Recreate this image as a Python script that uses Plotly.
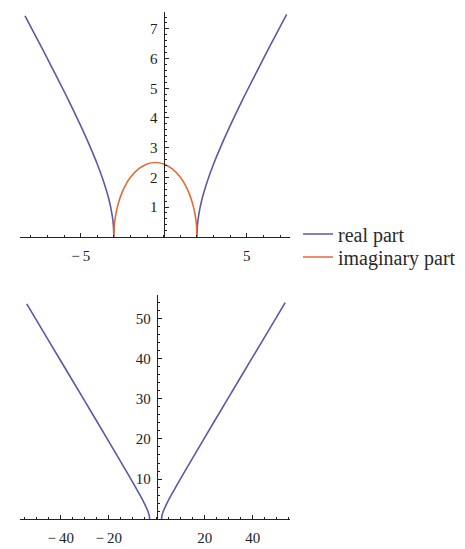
import plotly.graph_objects as go

# values
top_re_left_x = [-8.35, -7.5, -7.0, -6.5, -6.0, -5.5, -5.0, -4.5, -4.0, -3.6, -3.3, -3.1, -3.03, -3.0]
top_re_left_y = [7.44, 6.54, 6.0, 5.45, 4.9, 4.33, 3.74, 3.12, 2.45, 1.83, 1.26, 0.71, 0.39, 0.0]
top_re_right_x = [2.0, 2.03, 2.1, 2.3, 2.6, 3.0, 3.5, 4.0, 4.5, 5.0, 5.5, 6.0, 6.5, 7.0, 7.4]
top_re_right_y = [0.0, 0.39, 0.71, 1.26, 1.83, 2.45, 3.12, 3.74, 4.33, 4.9, 5.45, 6.0, 6.54, 7.07, 7.49]
top_im_x = [-3.0, -2.97, -2.9, -2.75, -2.5, -2.25, -2.0, -1.5, -1.0, -0.5, 0.0, 0.5, 1.0, 1.25, 1.5, 1.75, 1.9, 1.97, 2.0]
top_im_y = [0.0, 0.39, 0.7, 1.09, 1.5, 1.79, 2.0, 2.29, 2.45, 2.5, 2.45, 2.29, 2.0, 1.79, 1.5, 1.09, 0.7, 0.39, 0.0]

bot_left_x = [-54.2, -45, -35, -25, -15, -10, -7, -5, -4, -3.5, -3.1, -3.0]
bot_left_y = [53.6, 44.4, 34.4, 24.4, 14.3, 9.17, 6.0, 3.74, 2.45, 1.66, 0.71, 0.0]
bot_right_x = [2.0, 2.1, 2.5, 3, 4, 6, 9, 14, 24, 34, 44, 53.5]
bot_right_y = [0.0, 0.71, 1.66, 2.45, 3.74, 6.0, 9.17, 14.3, 24.4, 34.4, 44.4, 53.9]

top_xticks = [-5, 5]
top_xlabels = ["\u2212\u20095", "5"]
top_yticks = [1, 2, 3, 4, 5, 6, 7]
bot_xticks = [-40, -20, 20, 40]
bot_xlabels = ["\u2212\u200940", "\u2212\u200920", "20", "40"]
bot_yticks = [10, 20, 30, 40, 50]

BLUE = "#5a5aa6"
ORANGE = "#e26b3a"
W, H = 465, 549
OFF = 8  # page body margin
FW, FH = W - OFF, H - OFF

top_xr = [-8.65, 7.6]
top_yr = [0, 7.58]
bot_xr = [-57, 55.5]
bot_yr = [0, 55.8]


def px(x):
    return (x - OFF) / FW


def py(y):
    return (H - y) / FH


xdom = [px(20), px(290)]
top_ydom = [py(236.7), py(11.7)]
bot_ydom = [py(519.3), py(295)]


def zero_pos(rng, dom):
    return dom[0] + (0 - rng[0]) / (rng[1] - rng[0]) * (dom[1] - dom[0])


line_blue = dict(color=BLUE, width=1.6, shape="spline", smoothing=0.6)
line_orange = dict(color=ORANGE, width=1.6, shape="spline", smoothing=0.6)

fig = go.Figure()
fig.add_trace(go.Scatter(x=top_re_left_x, y=top_re_left_y, mode="lines", line=line_blue,
                         name="real part", legend="legend", xaxis="x", yaxis="y"))
fig.add_trace(go.Scatter(x=top_re_right_x, y=top_re_right_y, mode="lines", line=line_blue,
                         name="real part", showlegend=False, xaxis="x", yaxis="y"))
fig.add_trace(go.Scatter(x=top_im_x, y=top_im_y, mode="lines", line=line_orange,
                         name="imaginary part", legend="legend2", xaxis="x", yaxis="y"))
fig.add_trace(go.Scatter(x=bot_left_x, y=bot_left_y, mode="lines", line=line_blue,
                         showlegend=False, xaxis="x2", yaxis="y2"))
fig.add_trace(go.Scatter(x=bot_right_x, y=bot_right_y, mode="lines", line=line_blue,
                         showlegend=False, xaxis="x2", yaxis="y2"))

tickfont = dict(family="Liberation Serif", size=15, color="#222222")
common = dict(showgrid=False, zeroline=False, showline=True, linecolor="#222222", linewidth=1.2,
              ticks="inside", ticklen=4, tickwidth=1, tickcolor="#222222", tickfont=tickfont, fixedrange=True)
legfont = dict(family="Liberation Serif", size=20, color="#2a2a2a")

fig.update_layout(
    width=FW, height=FH,
    margin=dict(l=0, r=0, t=0, b=0),
    paper_bgcolor="white", plot_bgcolor="white",
    xaxis=dict(domain=xdom, range=top_xr, anchor="y", tickvals=top_xticks, ticktext=top_xlabels, ticklabelstandoff=5,
               minor=dict(dtick=1, tick0=0, ticks="inside", ticklen=2, tickcolor="#222222"), **common),
    yaxis=dict(domain=top_ydom, range=top_yr, anchor="free", position=zero_pos(top_xr, xdom), tickvals=top_yticks,
               ticklabelstandoff=3,
               minor=dict(dtick=0.2, tick0=0, ticks="inside", ticklen=2, tickcolor="#222222"), **common),
    xaxis2=dict(domain=xdom, range=bot_xr, anchor="y2", tickvals=bot_xticks, ticktext=bot_xlabels, ticklabelstandoff=5,
                minor=dict(dtick=5, tick0=0, ticks="inside", ticklen=2, tickcolor="#222222"), **common),
    yaxis2=dict(domain=bot_ydom, range=bot_yr, anchor="free", position=zero_pos(bot_xr, xdom), tickvals=bot_yticks,
                ticklabelstandoff=3,
                minor=dict(dtick=2, tick0=0, ticks="inside", ticklen=2, tickcolor="#222222"), **common),
    legend=dict(x=px(298), xanchor="left", y=py(234), yanchor="middle", bgcolor="rgba(0,0,0,0)", font=legfont),
    legend2=dict(x=px(298), xanchor="left", y=py(257), yanchor="middle", bgcolor="rgba(0,0,0,0)", font=legfont),
    showlegend=True,
)

fig.write_html("out.html")
